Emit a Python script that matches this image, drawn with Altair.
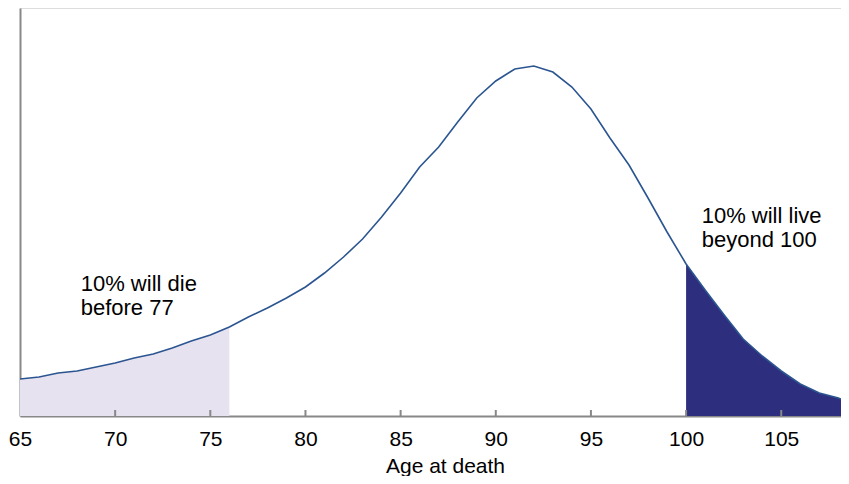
import altair as alt
import pandas as pd

# Age at death and relative density
ages = list(range(65, 110))
density = [0.37, 0.39, 0.43, 0.45, 0.49, 0.53, 0.58, 0.62, 0.68, 0.75,
           0.81, 0.89, 0.99, 1.08, 1.18, 1.29, 1.43, 1.59, 1.77, 1.99,
           2.23, 2.49, 2.69, 2.94, 3.18, 3.35, 3.47, 3.50, 3.44, 3.29,
           3.07, 2.78, 2.51, 2.18, 1.84, 1.52, 1.26, 1.01, 0.77, 0.60,
           0.45, 0.32, 0.23, 0.18, 0.11]

tick_ages = [70, 75, 80, 85, 90, 95, 100, 105]
label_ages = [65, 70, 75, 80, 85, 90, 95, 100, 105]

lower_cut = 76
upper_cut = 100

note_text = ["10% will die\nbefore 77", "10% will live\nbeyond 100"]
note_x = [68.19, 100.82]
note_y = [1.25, 1.93]

df = pd.DataFrame({"age": ages, "density": density})
notes = pd.DataFrame({"text": note_text, "x": note_x, "y": note_y})
ticks = pd.DataFrame({"age": tick_ages})

xscale = alt.Scale(domain=[65, 108.14], nice=False, zero=False)
yscale = alt.Scale(domain=[0, 4.08], nice=False)

xaxis = alt.Axis(values=label_ages, title="Age at death", tickSize=0,
                 labelPadding=12, labelFontSize=21, labelFont="Liberation Sans",
                 labelColor="#000000", titleFont="Liberation Sans", titleFontSize=21,
                 titleFontWeight="normal", titleColor="#000000",
                 titleX=425, titleY=56, titleBaseline="alphabetic", titleAlign="center",
                 domainColor="#888888", domainWidth=2, grid=False, labelFlush=False)
yaxis = alt.Axis(labels=False, ticks=False, title=None, grid=False,
                 domainColor="#888888", domainWidth=2)

x_enc = alt.X("age:Q", scale=xscale, axis=xaxis)
y_enc = alt.Y("density:Q", scale=yscale, axis=yaxis)

base = alt.Chart(df)

light = base.transform_filter(alt.datum.age <= lower_cut).mark_area(
    color="#E7E2EF", clip=True).encode(x=x_enc, y=y_enc)

dark = base.transform_filter(alt.datum.age >= upper_cut).mark_area(
    color="#2E2E7E", clip=True).encode(x=x_enc, y=y_enc)

line = base.mark_line(color="#2B5591", strokeWidth=1.6, clip=True).encode(x=x_enc, y=y_enc)

tick_marks = alt.Chart(ticks).mark_rule(color="#888888", strokeWidth=2).encode(
    x=alt.X("age:Q", scale=xscale, axis=xaxis),
    y=alt.value(408), y2=alt.value(402))

text = alt.Chart(notes).mark_text(
    align="left", baseline="alphabetic", fontSize=22, font="Liberation Sans",
    lineBreak="\n", lineHeight=24, color="#000000").encode(
    x=alt.X("x:Q", scale=xscale, axis=xaxis),
    y=alt.Y("y:Q", scale=yscale, axis=yaxis),
    text="text:N")

chart = alt.layer(light, dark, line, tick_marks, text).properties(
    width=821, height=408,
    autosize=alt.AutoSizeParams(type="none"),
    padding={"left": 12, "top": 0, "right": 0, "bottom": 60},
).configure_view(stroke=None).configure(background="white")

chart.save("out.html", embed_options={"renderer": "svg", "actions": False})
